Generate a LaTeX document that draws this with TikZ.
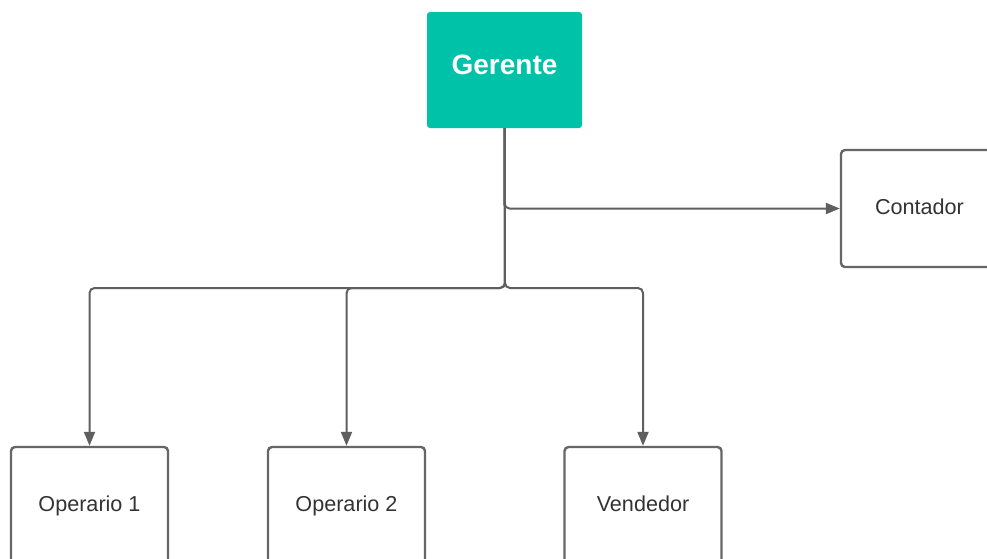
\documentclass[tikz,border=0pt]{standalone}
\usepackage{fontspec}
\setmainfont{Liberation Sans}
\usetikzlibrary{arrows.meta}
\definecolor{teal1}{HTML}{00C2A8}
\definecolor{linegray}{HTML}{5F5F5F}
\definecolor{boxgray}{HTML}{666666}
\definecolor{txt}{HTML}{333333}
\begin{document}
\begin{tikzpicture}[x=1pt,y=-1pt,
  topbox/.style={draw=none,fill=teal1,rounded corners=3pt,minimum width=155pt,minimum height=116pt,inner sep=0pt,
    text depth=10pt,font=\fontsize{28}{32}\selectfont\bfseries,text=white},
  rolebox/.style={draw=boxgray,line width=2.4pt,fill=white,rounded corners=4pt,minimum width=157pt,minimum height=117pt,inner sep=0pt,
    text height=15.5pt,text depth=4.5pt,font=\fontsize{21.6}{26}\selectfont,text=txt},
  conn/.style={draw=linegray,line width=2pt,rounded corners=5pt,-{Triangle[length=14pt,width=11pt]}}]
\clip (0,0) rectangle (987,558);
\fill[white] (0,0) rectangle (987,558);
\node[topbox] (g) at (504.5,70) {Gerente};
\node[rolebox] (c) at (919.5,208.5) {Contador};
\node[rolebox] (o1) at (89.5,505.5) {Operario 1};
\node[rolebox] (o2) at (346.5,505.5) {Operario 2};
\node[rolebox] (v) at (643,505.5) {Vendedor};
\coordinate (j) at (505,288);
\draw[conn] (g.south) |- (c.west);
\draw[conn] (g.south) -- (j) -| (o1.north);
\draw[conn] (g.south) -- (j) -| (o2.north);
\draw[conn] (g.south) -- (j) -| (v.north);
\end{tikzpicture}
\end{document}
